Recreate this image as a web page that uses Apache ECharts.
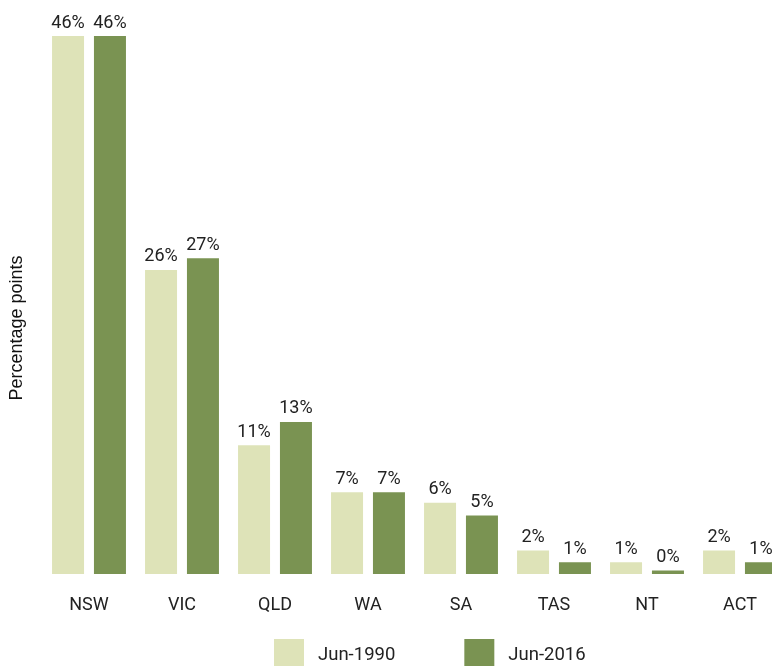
<!DOCTYPE html>
<html>
<head>
<meta charset="utf-8">
<script src="https://cdn.jsdelivr.net/npm/echarts@6/dist/echarts.min.js"></script>
<style>
  html, body { margin: 0; padding: 0; background: #fff; }
  #chart { width: 772px; height: 666px; }
</style>
</head>
<body>
<div id="chart"></div>
<script>
// states and territories
const states = ['NSW', 'VIC', 'QLD', 'WA', 'SA', 'TAS', 'NT', 'ACT'];
// share of total, percent
const jun1990 = [46.0, 26.0, 11.0, 7.0, 6.1, 2.0, 1.0, 2.0];
const jun2016 = [46.0, 27.0, 13.0, 7.0, 5.0, 1.0, 0.3, 1.0];

const chart = echarts.init(document.getElementById('chart'));

const labelStyle = {
  show: true,
  position: 'top',
  distance: 4,
  color: '#222',
  fontSize: 18,
  fontFamily: 'Roboto',
  formatter: p => Math.round(p.value) + '%',
};

chart.setOption({
  animation: false,
  grid: { left: 42.5, width: 744, top: 36, bottom: 92, outerBoundsMode: 'none' },
  legend: {
    left: 274,
    top: 639,
    padding: 0,
    itemWidth: 30,
    itemHeight: 32,
    itemGap: 69,
    icon: 'rect',
    textStyle: { fontSize: 18.5, fontFamily: 'Roboto', color: '#222', padding: [0, 0, 0, 9] },
    data: ['Jun-1990', 'Jun-2016'],
  },
  xAxis: {
    type: 'category',
    data: states,
    axisLine: { show: false },
    axisTick: { show: false },
    axisLabel: { fontSize: 18, fontFamily: 'Roboto', color: '#222', margin: 22 },
  },
  yAxis: {
    type: 'value',
    min: 0,
    max: 46,
    name: 'Percentage points',
    nameLocation: 'middle',
    nameGap: 16,
    nameTextStyle: {
      fontSize: 18,
      fontFamily: 'Liberation Sans',
      color: '#111',
      padding: [0, 46, 0, 0],
    },
    axisLine: { show: false },
    axisTick: { show: false },
    axisLabel: { show: false },
    splitLine: { show: false },
  },
  series: [
    {
      name: 'Jun-1990',
      type: 'bar',
      data: jun1990,
      barWidth: 32,
      barGap: '31%',
      itemStyle: { color: '#dee3b8' },
      label: labelStyle,
    },
    {
      name: 'Jun-2016',
      type: 'bar',
      data: jun2016,
      barWidth: 32,
      itemStyle: { color: '#7a9352' },
      label: labelStyle,
    },
  ],
});
</script>
</body>
</html>
